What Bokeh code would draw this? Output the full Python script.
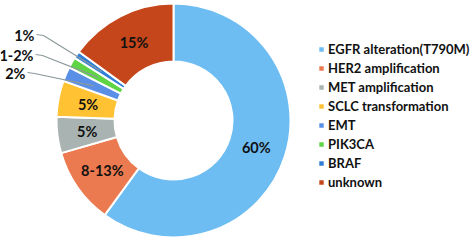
import math
from bokeh.plotting import figure
from bokeh.models import ColumnDataSource, Range1d, Legend, LegendItem
from bokeh.core.properties import value
from bokeh.embed import file_html
from bokeh.resources import INLINE

categories = ["EGFR alteration(T790M)", "HER2 amplification", "MET amplification",
              "SCLC transformation", "EMT", "PIK3CA", "BRAF", "unknown"]
shares = [60, 10.5, 5, 5, 2, 1.5, 1, 15]
labels = ["60%", "8-13%", "5%", "5%", "2%", "1-2%", "1%", "15%"]
colors = ["#6DBDF2", "#EC7A50", "#A9B4B2", "#FFC233", "#5A8FE8", "#5FD445", "#2F7FD8", "#C4461A"]
inside = [True, True, True, True, False, False, False, True]

W, H = 473, 240
cx, cy = 173, 120
r_out, r_in = 117, 59
r_lab = 87

total = sum(shares)
starts, ends, mids = [], [], []
c = 0.0
for s in shares:
    a0 = math.pi / 2 - 2 * math.pi * c / total
    c += s
    a1 = math.pi / 2 - 2 * math.pi * c / total
    starts.append(a0)
    ends.append(a1)
    mids.append((a0 + a1) / 2)

src = ColumnDataSource(dict(cat=categories, start=starts, end=ends, color=colors,
                            x=[cx] * len(shares), y=[cy] * len(shares)))

p = figure(width=W, height=H, output_backend="svg", toolbar_location=None,
           x_range=Range1d(0, W), y_range=Range1d(0, H), min_border=0)
p.axis.visible = False
p.grid.visible = False
p.outline_line_color = None
p.background_fill_color = "white"

r = p.annular_wedge(x="x", y="y", inner_radius=r_in, outer_radius=r_out,
                    start_angle="start", end_angle="end", direction="clock",
                    fill_color="color", line_color="white", line_width=2, source=src)

FS = "14.5px"
# inside labels
ix = [cx + r_lab * math.cos(m) for m, ins in zip(mids, inside) if ins]
iy = [cy + r_lab * math.sin(m) for m, ins in zip(mids, inside) if ins]
it = [l for l, ins in zip(labels, inside) if ins]
p.text(x=ix, y=iy, text=it, text_align="center", text_baseline="middle",
       text_font=value("Lato"), text_font_style="bold", text_font_size=FS,
       text_color="#111111")

# outside labels with leader lines (right edge of text, centre y; y measured up from bottom)
lab_pos = {4: (25, 167), 5: (33, 185), 6: (34, 205)}
for i, (tx, ty) in lab_pos.items():
    px = cx + r_lab * math.cos(mids[i])
    py = cy + r_lab * math.sin(mids[i])
    x0 = tx + 2
    p.line(x=[x0, x0 + 7, px], y=[ty + 1, ty, py], line_color="#8C9A9C", line_width=1.2)
    p.text(x=[tx], y=[ty], text=[labels[i]], text_align="right", text_baseline="middle",
           text_font=value("Lato"), text_font_style="bold", text_font_size=FS,
           text_color="#111111")

items = [LegendItem(label=categories[i], renderers=[r], index=i) for i in range(len(categories))]
legend = Legend(items=items, location=(317, 50), orientation="vertical",
                glyph_width=8, glyph_height=8, label_height=14, spacing=3,
                label_standoff=3, padding=0, margin=0,
                label_text_font="Lato", label_text_font_style="bold",
                label_text_font_size="13px", label_text_color="#111111",
                border_line_color=None, background_fill_alpha=0)
p.add_layout(legend, "center")

open("out.html", "w").write(file_html(p, INLINE))
